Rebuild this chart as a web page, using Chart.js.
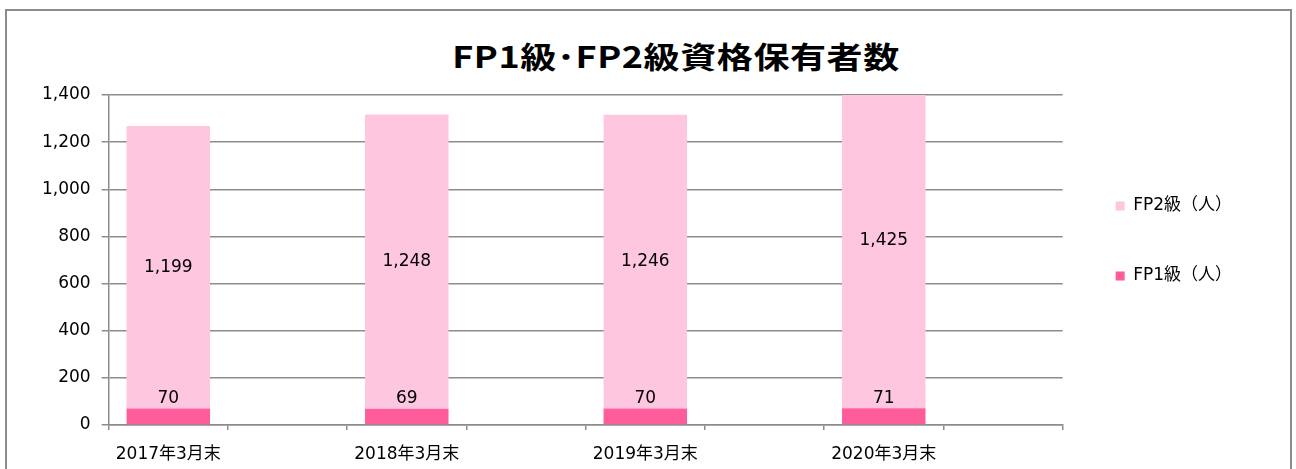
<!DOCTYPE html>
<html>
<head>
<meta charset="utf-8">
<script src="https://cdn.jsdelivr.net/npm/chart.js@4/dist/chart.umd.min.js"></script>
<style>
  html, body { margin: 0; padding: 0; background: #fff; }
  #wrap { position: relative; width: 1296px; height: 469px; overflow: hidden; }
  #frame { position: absolute; left: 5px; top: 9px; width: 1287px; height: 480px; border: 2px solid #8c8c8c; box-sizing: border-box; }
  #title { position: absolute; left: 426px; top: 36px; width: 500px; text-align: center; font-family: "Noto Sans CJK JP", sans-serif; font-weight: bold; font-size: 30px; letter-spacing: 0.5px; line-height: 38px; color: #000; transform: scaleX(1.2); transform-origin: center; white-space: nowrap; }
  #c { position: absolute; left: 0; top: 0; }
</style>
</head>
<body>
<div id="wrap">
  <div id="frame"></div>
  <div id="title">FP1級･FP2級資格保有者数</div>
  <canvas id="c" width="1296" height="469"></canvas>
</div>
<script>
const categories = ['2017年3月末', '2018年3月末', '2019年3月末', '2020年3月末'];
const fp1Values = [70, 69, 70, 71];
const fp2Values = [1199, 1248, 1246, 1425];
const seriesNames = ['FP1級（人）', 'FP2級（人）'];
const yTicks = [0, 200, 400, 600, 800, 1000, 1200, 1400];

// Excel layout: each category followed by an empty slot
const slotLabels = [];
const fp1Slots = [];
const fp2Slots = [];
categories.forEach((c, i) => {
  slotLabels.push(c, '');
  fp1Slots.push(fp1Values[i], null);
  fp2Slots.push(fp2Values[i], null);
});

const FONT = "'DejaVu Sans', 'Noto Sans CJK JP', sans-serif";

const labelPlugin = {
  id: 'barLabels',
  afterDatasetsDraw(chart) {
    const ctx = chart.ctx;
    ctx.save();
    ctx.font = '17px ' + FONT;
    ctx.fillStyle = '#000';
    ctx.textAlign = 'center';
    ctx.textBaseline = 'middle';
    chart.data.datasets.forEach((ds, di) => {
      const meta = chart.getDatasetMeta(di);
      meta.data.forEach((el, i) => {
        const v = ds.data[i];
        if (v === null || v === undefined) return;
        const p = el.getProps(['x', 'y', 'base'], true);
        const txt = v.toLocaleString('en-US');
        if (di === 0) {
          ctx.fillText(txt, p.x, p.y - 10);
        } else {
          ctx.fillText(txt, p.x, (p.y + p.base) / 2);
        }
      });
    });
    ctx.restore();
  }
};

new Chart(document.getElementById('c'), {
  type: 'bar',
  data: {
    labels: slotLabels,
    datasets: [
      { label: seriesNames[0], data: fp1Slots, backgroundColor: '#FF5C9C', borderWidth: 0 },
      { label: seriesNames[1], data: fp2Slots, backgroundColor: '#FFC6DF', borderWidth: 0 }
    ]
  },
  options: {
    responsive: false,
    animation: false,
    devicePixelRatio: 1,
    categoryPercentage: 1.0,
    barPercentage: 0.7,
    layout: { padding: { top: 13, left: 31, right: 54, bottom: 0 } },
    plugins: {
      title: { display: false },
      tooltip: { enabled: false },
      legend: {
        position: 'right',
        reverse: true,
        align: 'center',
        labels: {
          boxWidth: 9,
          boxHeight: 9,
          padding: 53,
          color: '#000',
          font: { family: FONT, size: 17 }
        }
      }
    },
    scales: {
      x: {
        stacked: true,
        afterFit(axis) { axis.height = 44; },
        grid: { display: true, offset: true, drawOnChartArea: false, drawTicks: true, tickLength: 5, color: '#8c8c8c', lineWidth: 1.5 },
        border: { display: true, color: '#8c8c8c', width: 1.5 },
        ticks: { autoSkip: false, maxRotation: 0, color: '#000', font: { family: FONT, size: 17 }, padding: 14 }
      },
      y: {
        stacked: true,
        min: 0,
        max: 1400,
        afterBuildTicks(axis) { axis.ticks = yTicks.map(v => ({ value: v })); },
        afterFit(axis) { axis.paddingTop = 95; },
        grid: { color: '#8c8c8c', lineWidth: 1.5, tickLength: 7 },
        border: { display: true, color: '#8c8c8c', width: 1.5 },
        ticks: { color: '#000', font: { family: FONT, size: 17 }, padding: 11, callback: v => Number(v).toLocaleString('en-US') }
      }
    }
  },
  plugins: [labelPlugin]
});
</script>
</body>
</html>
